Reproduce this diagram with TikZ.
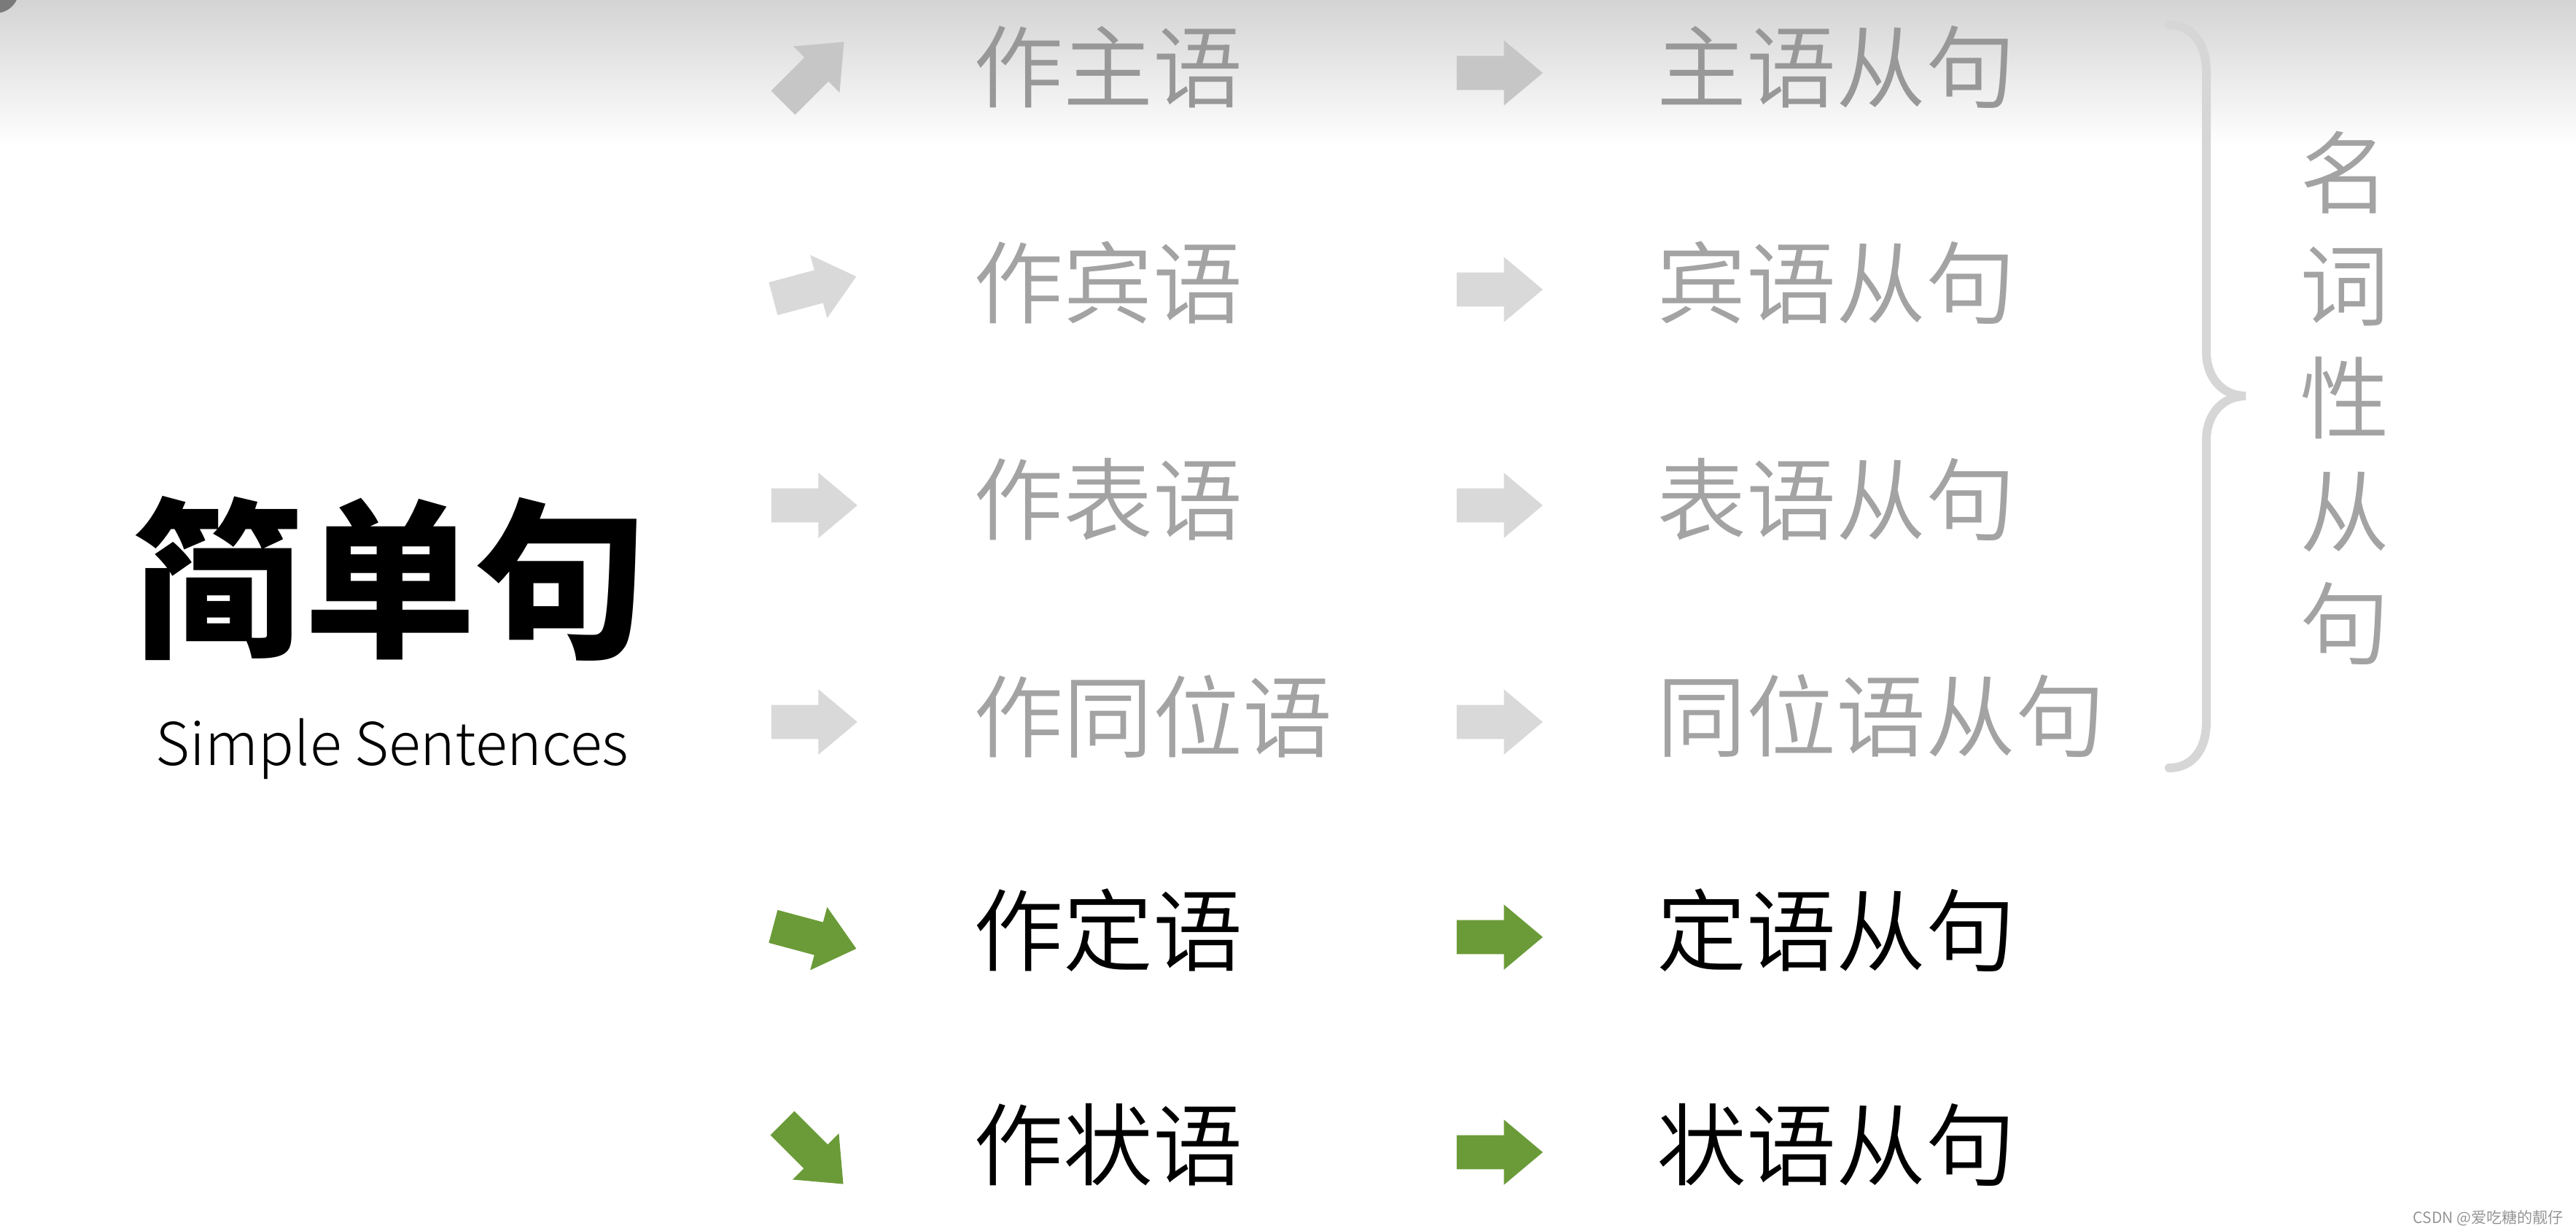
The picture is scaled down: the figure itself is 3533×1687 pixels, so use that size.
\documentclass[tikz,border=0pt]{standalone}
\usepackage{fontspec}
\usetikzlibrary{shapes.arrows}
\newfontfamily\cjk{Noto Sans CJK SC DemiLight}
\newfontfamily\cjkthin{Noto Sans CJK SC Light}
\newfontfamily\heavy{Noto Sans CJK SC Black}

\definecolor{fadegray}{RGB}{217,217,217}
\definecolor{topgray}{RGB}{198,198,198}
\definecolor{labelgray}{RGB}{163,163,163}
\definecolor{toplabel}{RGB}{152,152,152}
\definecolor{leafgreen}{RGB}{107,155,56}
\definecolor{bracegray}{RGB}{214,214,214}
\definecolor{cornergray}{RGB}{122,122,122}

\tikzset{
  every picture/.style={line width=0.75pt},
  blockarrow/.style={single arrow, draw=none, inner xsep=0pt, inner ysep=2.2mm,
    minimum height=11.8mm,
    single arrow head extend=2.15mm, single arrow tip angle=80},
  role/.style={anchor=west, inner sep=0pt, font=\cjk\fontsize{35pt}{42pt}\selectfont},
}

\begin{document}
\begin{tikzpicture}[x=0.1mm, y=-0.1mm]
    \useasboundingbox (0,0) rectangle (3533,1687);
    \clip (0,0) rectangle (3533,1687);

    % Faded top band
    \shade[top color=black!17, bottom color=white] (0,0) rectangle (3533,200);
    \fill[cornergray] (-6,-14) circle[radius=3.2mm];

    % Title
    \node[inner sep=0pt, font=\heavy\fontsize{67pt}{70pt}\selectfont] (simple) at (535,794) {简单句};
    \node[inner sep=0pt, font=\cjkthin\fontsize{23pt}{26pt}\selectfont] (simpleen) at (538,1027) {Simple Sentences};

    % Left arrows
    \node[blockarrow, fill=topgray, rotate=45]   (a1) at (1106,109) {};
    \node[blockarrow, fill=fadegray, rotate=15]  (a2) at (1104,398) {};
    \node[blockarrow, fill=fadegray]             (a3) at (1103,693) {};
    \node[blockarrow, fill=fadegray]             (a4) at (1103,990) {};
    \node[blockarrow, fill=leafgreen, rotate=-15] (a5) at (1104,1282) {};
    \node[blockarrow, fill=leafgreen, rotate=-45] (a6) at (1105,1572) {};

    % Roles
    \node[role, text=toplabel]  (r1) at (1334,92)   {作主语};
    \node[role, text=labelgray] (r2) at (1334,388)  {作宾语};
    \node[role, text=labelgray] (r3) at (1334,685)  {作表语};
    \node[role, text=labelgray] (r4) at (1334,982)  {作同位语};
    \node[role]                 (r5) at (1334,1276) {作定语};
    \node[role]                 (r6) at (1334,1570) {作状语};

    % Middle arrows
    \node[blockarrow, fill=topgray]   (b1) at (2043,100) {};
    \node[blockarrow, fill=fadegray]  (b2) at (2043,397) {};
    \node[blockarrow, fill=fadegray]  (b3) at (2043,693) {};
    \node[blockarrow, fill=fadegray]  (b4) at (2043,990) {};
    \node[blockarrow, fill=leafgreen] (b5) at (2043,1285) {};
    \node[blockarrow, fill=leafgreen] (b6) at (2043,1580) {};

    % Clauses
    \node[role, text=toplabel]  (c1) at (2271,92)   {主语从句};
    \node[role, text=labelgray] (c2) at (2271,388)  {宾语从句};
    \node[role, text=labelgray] (c3) at (2271,685)  {表语从句};
    \node[role, text=labelgray] (c4) at (2271,982)  {同位语从句};
    \node[role]                 (c5) at (2271,1276) {定语从句};
    \node[role]                 (c6) at (2271,1570) {状语从句};

    % Brace
    \draw[bracegray, line width=1.2mm, line cap=round]
        (2975,34) .. controls (3005,34) and (3026,58) .. (3026,98) -- (3026,482)
        .. controls (3026,520) and (3050,543) .. (3080,543)
        .. controls (3050,543) and (3026,566) .. (3026,604) -- (3026,990)
        .. controls (3026,1030) and (3005,1053) .. (2975,1053);
    \node[inner sep=0pt, align=center, text=labelgray,
          font=\cjk\fontsize{35pt}{44pt}\selectfont] (nominal) at (3216,546)
        {名\\词\\性\\从\\句};

    % Watermark
    \node[anchor=east, inner sep=0pt, text=black!45,
          font=\cjk\fontsize{6pt}{7pt}\selectfont] (mark) at (3517,1670) {CSDN @爱吃糖的靓仔};
\end{tikzpicture}
\end{document}
